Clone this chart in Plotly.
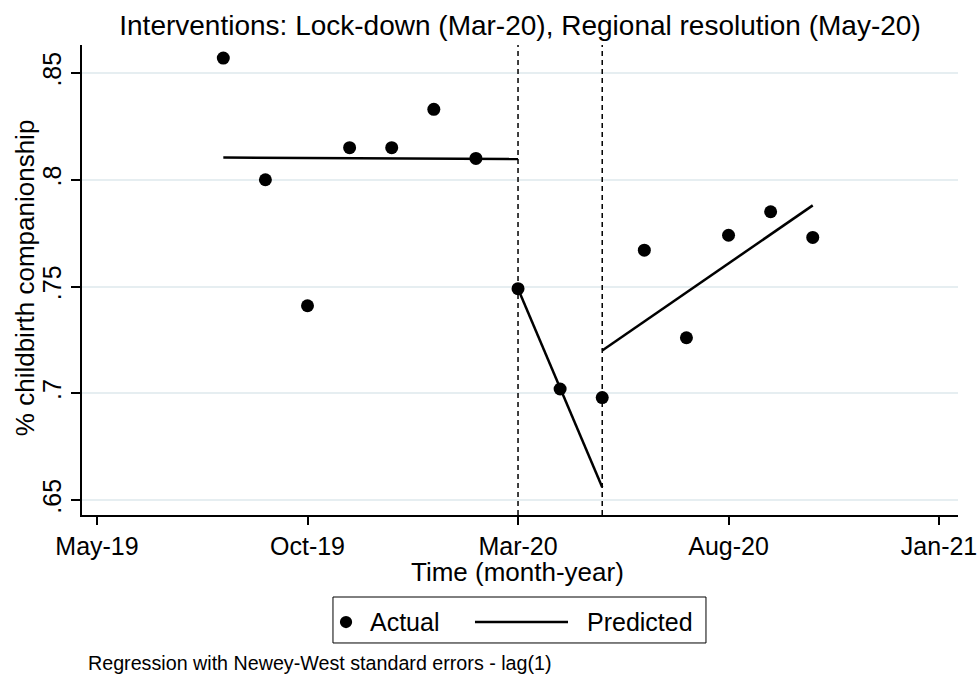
import plotly.graph_objects as go

# ---- data ----
month_labels = ["May-19", "Jun-19", "Jul-19", "Aug-19", "Sep-19", "Oct-19", "Nov-19", "Dec-19",
                "Jan-20", "Feb-20", "Mar-20", "Apr-20", "May-20", "Jun-20", "Jul-20", "Aug-20",
                "Sep-20", "Oct-20", "Nov-20", "Dec-20", "Jan-21"]
tick_labels = ["May-19", "Oct-19", "Mar-20", "Aug-20", "Jan-21"]

actual_months = ["Aug-19", "Sep-19", "Oct-19", "Nov-19", "Dec-19", "Jan-20", "Feb-20",
                 "Mar-20", "Apr-20", "May-20", "Jun-20", "Jul-20", "Aug-20", "Sep-20", "Oct-20"]
actual_values = [0.857, 0.800, 0.741, 0.815, 0.815, 0.833, 0.810,
                 0.749, 0.702, 0.698, 0.767, 0.726, 0.774, 0.785, 0.773]

pred_pre_months = ["Aug-19", "Mar-20"]
pred_pre_values = [0.8104, 0.8097]
pred_lock_months = ["Mar-20", "May-20"]
pred_lock_values = [0.749, 0.656]
pred_reg_months = ["May-20", "Oct-20"]
pred_reg_values = [0.720, 0.788]

intervention_months = ["Mar-20", "May-20"]

y_ticks = [0.65, 0.70, 0.75, 0.80, 0.85]
y_tick_text = [".65", ".7", ".75", ".8", ".85"]

idx = {m: i for i, m in enumerate(month_labels)}
FONT = "Liberation Sans, Arial, sans-serif"

W, H = 978, 678

fig = go.Figure()

for mo, vals in [(pred_pre_months, pred_pre_values),
                 (pred_lock_months, pred_lock_values),
                 (pred_reg_months, pred_reg_values)]:
    fig.add_trace(go.Scatter(x=[idx[m] for m in mo], y=vals, mode="lines",
                             line=dict(color="black", width=2.5), showlegend=False,
                             name="Predicted"))

fig.add_trace(go.Scatter(x=[idx[m] for m in actual_months], y=actual_values, mode="markers",
                         marker=dict(color="black", size=13), showlegend=False, name="Actual"))

for m in intervention_months:
    fig.add_shape(type="line", xref="x", yref="paper", x0=idx[m], x1=idx[m], y0=0, y1=1,
                  line=dict(color="black", width=1.5, dash="5px,4px"))

# manual legend (box, marker, line)
fig.add_shape(type="rect", xref="paper", yref="paper", x0=0.2865, x1=0.7123, y0=-0.1745, y1=-0.2723,
              line=dict(color="black", width=1), fillcolor="white")
fig.add_shape(type="circle", xref="paper", yref="paper", x0=0.3014 - 0.0070, x1=0.3014 + 0.0070,
              y0=-0.2277 - 0.0130, y1=-0.2277 + 0.0130, line=dict(color="black", width=0), fillcolor="black")
fig.add_shape(type="line", xref="paper", yref="paper", x0=0.4486, x1=0.5548, y0=-0.2277, y1=-0.2277,
              line=dict(color="black", width=2.5))

annotations = [
    dict(text="Actual", xref="paper", yref="paper", x=0.3265, y=-0.2277, xanchor="left", yanchor="middle",
         showarrow=False, font=dict(size=25, color="black", family=FONT)),
    dict(text="Predicted", xref="paper", yref="paper", x=0.5742, y=-0.2277, xanchor="left", yanchor="middle",
         showarrow=False, font=dict(size=25, color="black", family=FONT)),
    dict(text="Time (month-year)", xref="paper", yref="paper", x=0.4977, y=-0.121, xanchor="center",
         yanchor="middle", showarrow=False, font=dict(size=26, color="black", family=FONT)),
    dict(text="% childbirth companionship", xref="paper", yref="paper", x=-0.0651, y=0.506, textangle=-90,
         xanchor="center", yanchor="middle", showarrow=False, font=dict(size=26, color="black", family=FONT)),
    dict(text="Regression with Newey-West standard errors - lag(1)", xref="paper", yref="paper", x=0.0045,
         y=-0.3149, xanchor="left", yanchor="middle", showarrow=False,
         font=dict(size=19.7, color="black", family=FONT)),
]

fig.update_layout(
    width=W, height=H,
    margin=dict(l=82, r=20, t=45, b=163, autoexpand=False),
    paper_bgcolor="white", plot_bgcolor="white",
    font=dict(family=FONT, color="black"),
    title=dict(text="Interventions: Lock-down (Mar-20), Regional resolution (May-20)",
               x=0.5, xref="paper", xanchor="center", y=1 - 25 / H, yref="container", yanchor="middle",
               font=dict(size=28, color="black", family=FONT)),
    annotations=annotations,
    showlegend=False,
    xaxis=dict(range=[-0.356, 20.45], tickvals=[idx[t] for t in tick_labels], ticktext=tick_labels,
               ticks="outside", ticklen=8, tickwidth=1.5, tickcolor="black", ticklabeloverflow="allow",
               automargin=False,
               showline=True, linecolor="black", linewidth=1.5, showgrid=False, zeroline=False,
               tickfont=dict(size=25, color="black", family=FONT)),
    yaxis=dict(range=[0.643, 0.8631], tickvals=y_ticks, ticktext=y_tick_text, tickangle=-90,
               ticks="outside", ticklen=9, tickwidth=1.5, tickcolor="black", automargin=False,
               showline=True, linecolor="black", linewidth=1.5, showgrid=True, gridcolor="#e6eef1",
               gridwidth=1.5, zeroline=False,
               tickfont=dict(size=25, color="black", family=FONT)),
)

fig.write_html("out.html", config={"displayModeBar": False},
               post_script="document.body.style.margin='0';document.body.style.overflow='hidden';")
